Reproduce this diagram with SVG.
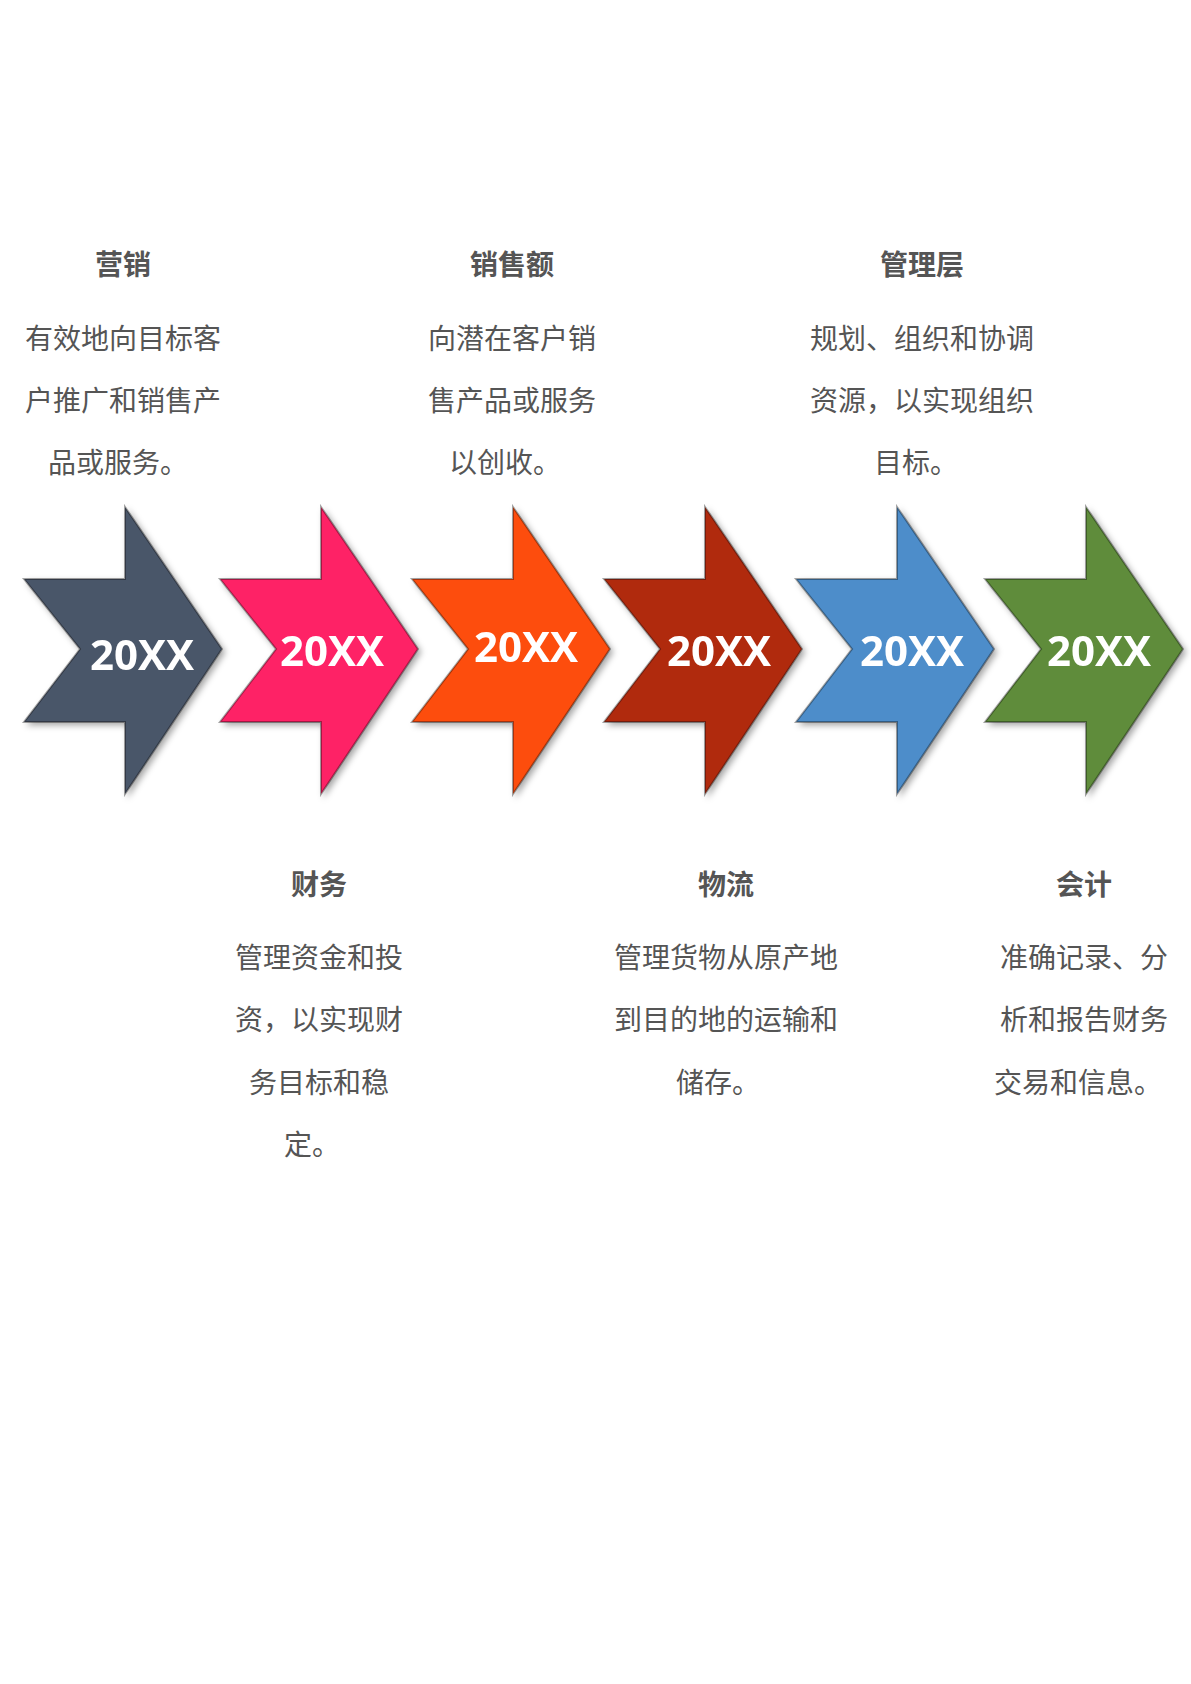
<svg xmlns="http://www.w3.org/2000/svg" width="1191" height="1684" viewBox="0 0 1191 1684">
<defs>
<style>
.t{font-family:"Liberation Sans","Noto Sans CJK SC",sans-serif;font-size:28px;font-weight:bold;fill:#555;text-anchor:middle}
.b{font-family:"Liberation Sans","Noto Sans CJK SC",sans-serif;font-size:28px;fill:#555;text-anchor:middle}
.y{font-family:"Open Sans","DejaVu Sans",sans-serif;font-size:42px;font-weight:bold;fill:#fff;text-anchor:middle}
.a{stroke:#000;stroke-opacity:0.35;stroke-width:2}
</style>
<path id="ar" d="M0,72 L101,72 L101,0 L198,142 L101,287 L101,215 L0,215 L56,142 Z"/>
<filter id="sh" x="-10%" y="-10%" width="125%" height="125%"><feDropShadow dx="3" dy="3" stdDeviation="3" flood-opacity="0.35"/></filter>
</defs>
<g id="arrows" filter="url(#sh)">
<g id="a1"><use href="#ar" x="24" y="507" fill="#4a5669" class="a"/><text class="y" x="142" y="670">20XX</text></g>
<g id="a2"><use href="#ar" x="220" y="507" fill="#fe2266" class="a"/><text class="y" x="332" y="666">20XX</text></g>
<g id="a3"><use href="#ar" x="412" y="507" fill="#fd4d0b" class="a"/><text class="y" x="526" y="662">20XX</text></g>
<g id="a4"><use href="#ar" x="604" y="507" fill="#b02a0c" class="a"/><text class="y" x="719" y="666">20XX</text></g>
<g id="a5"><use href="#ar" x="796" y="507" fill="#4d8dca" class="a"/><text class="y" x="912" y="666">20XX</text></g>
<g id="a6"><use href="#ar" x="985" y="507" fill="#5e8c3a" class="a"/><text class="y" x="1099" y="666">20XX</text></g>
</g>
<g id="n1"><text class="t" x="123" y="275">营销</text><text class="b" x="123" y="349">有效地向目标客</text><text class="b" x="123" y="411">户推广和销售产</text><text class="b" x="118" y="473">品或服务。</text></g>
<g id="n2"><text class="t" x="512" y="275">销售额</text><text class="b" x="512" y="349">向潜在客户销</text><text class="b" x="512" y="411">售产品或服务</text><text class="b" x="505" y="473">以创收。</text></g>
<g id="n3"><text class="t" x="922" y="275">管理层</text><text class="b" x="922" y="349">规划、组织和协调</text><text class="b" x="922" y="411">资源，以实现组织</text><text class="b" x="916" y="473">目标。</text></g>
<g id="n4"><text class="t" x="319" y="895">财务</text><text class="b" x="319" y="968">管理资金和投</text><text class="b" x="319" y="1030">资，以实现财</text><text class="b" x="319" y="1093">务目标和稳</text><text class="b" x="312" y="1155">定。</text></g>
<g id="n5"><text class="t" x="726" y="895">物流</text><text class="b" x="726" y="968">管理货物从原产地</text><text class="b" x="726" y="1030">到目的地的运输和</text><text class="b" x="718" y="1093">储存。</text></g>
<g id="n6"><text class="t" x="1084" y="895">会计</text><text class="b" x="1084" y="968">准确记录、分</text><text class="b" x="1084" y="1030">析和报告财务</text><text class="b" x="1078" y="1093">交易和信息。</text></g>
</svg>
